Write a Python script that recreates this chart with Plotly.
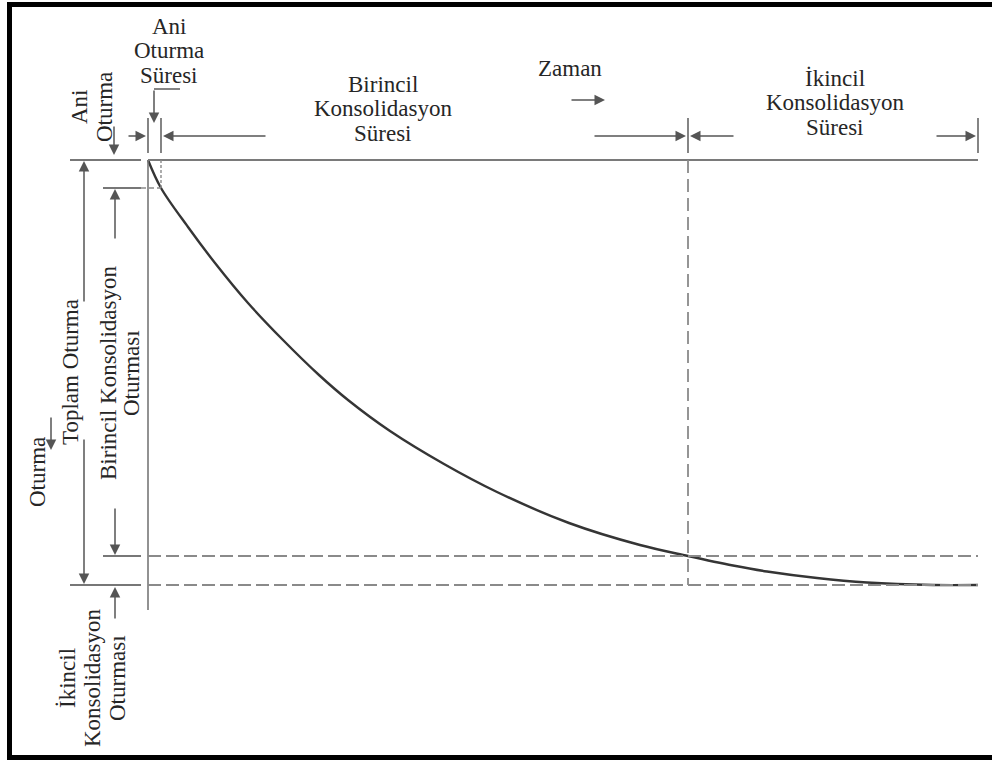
import plotly.graph_objects as go

# ---------------- data (diagram units: time to the right, settlement downward) ----------------
# landmark times: load applied, end of immediate settlement, end of primary consolidation, end of record
time_marks = [0, 13, 540, 830]
# landmark settlements: none, immediate settlement, end of primary consolidation, total settlement
settle_marks = [0, 28, 396, 425]

# time-settlement curve
curve_time = [0, 13, 40, 67, 100, 135, 171, 200, 242, 296, 349, 421, 492, 540, 585, 619, 669, 719, 785, 830]
curve_settle = [0, 28, 67, 103, 143, 180, 215, 240, 271, 304, 332, 363, 385, 396, 405.5, 411.5, 418, 422.5, 425, 425]

# label texts
time_period_labels = [["Ani", "Oturma", "Süresi"],
                      ["Birincil", "Konsolidasyon", "Süresi"],
                      ["İkincil", "Konsolidasyon", "Süresi"]]
time_axis_label = "Zaman"
settle_axis_label = "Oturma"
immediate_settle_label = ["Ani", "Oturma"]
total_settle_label = "Toplam Oturma"
primary_settle_label = ["Birincil Konsolidasyon", "Oturması"]
secondary_settle_label = ["İkincil", "Konsolidasyon", "Oturması"]

# ---------------- layout helpers (pixel placement of the drawing) ----------------
W, H = 992, 760
OX, OY = 148, 160          # pixel position of the origin of the diagram


def X(px):
    return px - OX


def Y(py):
    return py - OY


FONT = "Liberation Serif, Times New Roman, serif"
FS = 23
TXT = "#262626"
LINE = "#5e5e5e"
DASH = "#8a8a8a"

t0, t1, t2, t3 = time_marks
s0, s1, s2, s3 = settle_marks

fig = go.Figure()

# settlement curve
fig.add_trace(go.Scatter(x=curve_time, y=curve_settle, mode="lines",
                         line=dict(color="#353535", width=2.4, shape="spline", smoothing=1.0),
                         hoverinfo="skip", showlegend=False))

shapes = []


def seg(x0, y0, x1, y1, color=LINE, width=1.6, dash=None):
    d = dict(type="line", x0=x0, y0=y0, x1=x1, y1=y1, xref="x", yref="y",
             line=dict(color=color, width=width))
    if dash:
        d["line"]["dash"] = dash
    shapes.append(d)


# frame (no right side in the original)
seg(X(7), Y(4.5), X(W), Y(4.5), color="black", width=5)
seg(X(9.5), Y(2), X(9.5), Y(H), color="black", width=5)
seg(X(7), Y(757.5), X(W), Y(757.5), color="black", width=5)

# vertical settlement axis and the zero line
seg(t0, s0, t0, Y(610), color="#777777", width=1.6)
seg(t0, s0, t3, s0, color="#7a7a7a", width=2)

# left reference ticks for settlement levels
seg(X(70), s0, X(141), s0, color="#777777", width=1.8)
seg(X(103), s1, X(141), s1, color="#777777", width=1.8)
seg(X(103), s2, X(141), s2, color="#777777", width=1.8)
seg(X(70), s3, X(141), s3, color="#777777", width=1.8)

# dashed reference lines
seg(X(141), s1, t1, s1, color=DASH, width=1.6, dash="5px,3px")
seg(t1, s0, t1, s1, color=DASH, width=1.4, dash="3px,2px")
seg(t0, s2, t3, s2, color=DASH, width=2, dash="13px,5px")
seg(t0, s3, t3, s3, color=DASH, width=2, dash="13px,5px")
seg(t2, s0, t2, s3, color=DASH, width=1.8, dash="13px,6px")

# top ticks at time landmarks
for tm in time_marks:
    seg(tm, Y(118), tm, Y(153), color="#666666", width=1.6)

# bracket from "Ani Oturma Süresi" label
seg(X(180), Y(89), X(154), Y(89), color="#666666", width=1.6)

annotations = []


def arrow(xh, yh, xt, yt):
    annotations.append(dict(x=xh, y=yh, ax=xt, ay=yt, xref="x", yref="y", axref="x", ayref="y",
                            text="", showarrow=True, arrowhead=2, arrowsize=1.4, arrowwidth=1.5,
                            arrowcolor="#555555", standoff=0, startstandoff=0))


ya = Y(136)
arrow(t0 - 2, ya, X(127), ya)            # immediate settlement time, from left
arrow(t1 + 2, ya, X(267), ya)            # primary period, left arrow
arrow(t2 - 2, ya, X(593), ya)            # primary period, right arrow
arrow(t2 + 2, ya, X(735), ya)            # secondary period, left arrow
arrow(t3 - 2, ya, X(935), ya)            # secondary period, right arrow
arrow(X(605), Y(100), X(570), Y(100))    # time direction
arrow(X(154), Y(123), X(154), Y(89))     # bracket arrow down
arrow(X(114), s0 - 5, X(114), Y(125))    # immediate settlement arrow
arrow(X(84), s0 + 1, X(84), Y(303))      # total settlement, up
arrow(X(84), s3 - 1, X(84), Y(438))      # total settlement, down
arrow(X(115), s1 + 1, X(115), Y(240))    # primary settlement, up
arrow(X(115), s2 - 1, X(115), Y(507))    # primary settlement, down
arrow(X(115), s3 + 2, X(115), Y(620))    # secondary settlement, up
arrow(X(51), Y(450), X(51), Y(416))      # settlement direction


def label(text, px, py, angle=0):
    annotations.append(dict(x=X(px), y=Y(py), xref="x", yref="y", text=text, showarrow=False,
                            textangle=angle, xanchor="center", yanchor="middle",
                            font=dict(family=FONT, size=FS, color=TXT)))


LS = 24.5
period_centres = [(169, 26), (383, 84), (835, 78)]
for lines, (cx, cy) in zip(time_period_labels, period_centres):
    for i, ln in enumerate(lines):
        label(ln, cx, cy + i * LS)

label(time_axis_label, 570, 68)

for i, ln in enumerate(immediate_settle_label):
    label(ln, 79 + i * 25, 107, -90)
label(settle_axis_label, 37, 472, -90)
label(total_settle_label, 70, 372, -90)
for i, ln in enumerate(primary_settle_label):
    label(ln, 108 + i * 23, 373, -90)
for i, ln in enumerate(secondary_settle_label):
    label(ln, 67 + i * 25, 678, -90)

fig.update_layout(
    width=W, height=H,
    margin=dict(l=0, r=0, t=0, b=0),
    paper_bgcolor="white", plot_bgcolor="white",
    xaxis=dict(range=[X(0), X(W)], visible=False, fixedrange=True),
    yaxis=dict(range=[Y(H), Y(0)], visible=False, fixedrange=True),
    shapes=shapes, annotations=annotations, showlegend=False,
)

fig.write_html("out.html", config={"displayModeBar": False},
               post_script="document.body.style.margin='0px';document.body.style.overflow='hidden';")
